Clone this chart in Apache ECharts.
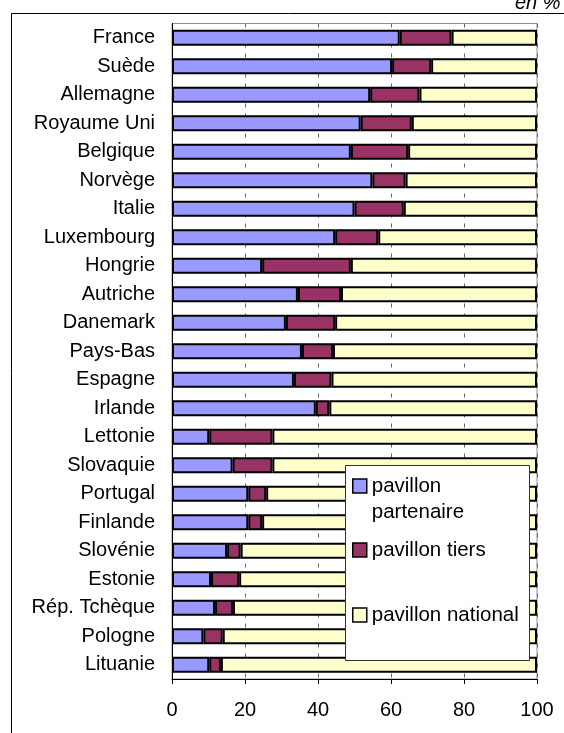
<!DOCTYPE html>
<html>
<head>
<meta charset="utf-8">
<script src="https://cdn.jsdelivr.net/npm/echarts@6/dist/echarts.min.js"></script>
<style>
  html, body { margin: 0; padding: 0; background: #fff; }
  #main { width: 564px; height: 733px; }
</style>
</head>
<body>
<div id="main"></div>
<script>
// pays, du haut vers le bas
var countries = ['France', 'Suède', 'Allemagne', 'Royaume Uni', 'Belgique', 'Norvège', 'Italie',
  'Luxembourg', 'Hongrie', 'Autriche', 'Danemark', 'Pays-Bas', 'Espagne', 'Irlande', 'Lettonie',
  'Slovaquie', 'Portugal', 'Finlande', 'Slovénie', 'Estonie', 'Rép. Tchèque', 'Pologne', 'Lituanie'];

// parts en %
var partenaire = [62.4, 60.3, 54.3, 51.7, 49.0, 54.9, 50.0, 44.7, 24.7, 34.5, 31.2, 35.6, 33.4, 39.4,
  10.2, 16.6, 20.9, 20.9, 15.1, 10.7, 11.8, 8.6, 10.2];
var tiers = [14.2, 10.7, 13.5, 14.0, 15.7, 9.1, 13.5, 11.8, 24.3, 11.8, 13.5, 8.5, 10.3, 3.7,
  17.3, 10.9, 4.9, 3.8, 3.7, 7.7, 4.9, 5.3, 3.2];
var national = [23.4, 29.0, 32.2, 34.3, 35.3, 36.0, 36.5, 43.5, 51.0, 53.7, 55.3, 55.9, 56.3, 56.9,
  72.5, 72.5, 74.2, 75.3, 81.2, 81.6, 83.3, 86.1, 86.6];

var xTicks = [0, 20, 40, 60, 80, 100];

var FONT = 'Liberation Sans';

var chart = echarts.init(document.getElementById('main'), null, { renderer: 'canvas' });

function barSerie(name, data, color) {
  return {
    name: name,
    type: 'bar',
    stack: 'total',
    barWidth: 16,
    data: data,
    itemStyle: { color: color, borderColor: '#000', borderWidth: 2 },
    emphasis: { disabled: true }
  };
}

var option = {
  animation: false,
  backgroundColor: '#fff',
  textStyle: { fontFamily: FONT },
  grid: {
    left: 172, right: 27, top: 23.5, bottom: 54,
    show: true, borderColor: '#909090', borderWidth: 1
  },
  xAxis: {
    type: 'value',
    min: xTicks[0],
    max: xTicks[xTicks.length - 1],
    interval: 20,
    axisLine: { show: true, lineStyle: { color: '#000', width: 1 } },
    axisTick: { show: true, length: 5, lineStyle: { color: '#000' } },
    axisLabel: { color: '#000', fontSize: 20, fontFamily: FONT, margin: 21 },
    splitLine: { show: true, lineStyle: { color: '#666', type: [4, 6], width: 1 } }
  },
  yAxis: {
    type: 'category',
    inverse: true,
    data: countries,
    axisLine: { show: true, lineStyle: { color: '#000', width: 1 } },
    axisTick: { show: false },
    axisLabel: { color: '#000', fontSize: 20, fontFamily: FONT, margin: 17 }
  },
  legend: {
    orient: 'vertical',
    left: 352,
    top: 447,
    padding: 0,
    itemGap: 12,
    itemWidth: 14,
    itemHeight: 14,
    icon: 'rect',
    z: 10,
    selectedMode: false,
    itemStyle: { borderColor: '#000', borderWidth: 1.5 },
    textStyle: { color: '#000', fontSize: 20.5, fontFamily: FONT, lineHeight: 26 },
    // ligne vide en tête : le carré reste aligné sur « pavillon »
    formatter: function (name) {
      return name === 'pavillon partenaire' ? '\npavillon\npartenaire' : name;
    },
    data: [
      { name: 'pavillon partenaire' },
      { name: 'pavillon tiers' },
      { name: 'pavillon national', textStyle: { padding: [27, 0, 27, 0] } }
    ]
  },
  graphic: [
    // cadre extérieur
    {
      type: 'rect', z: 1, silent: true,
      shape: { x: 11.5, y: 13.5, width: 700, height: 800 },
      style: { fill: 'none', stroke: '#000', lineWidth: 1 }
    },
    // boîte de légende
    {
      type: 'rect', z: 9, silent: true,
      shape: { x: 345.5, y: 465.5, width: 184, height: 195 },
      style: { fill: '#fff', stroke: '#333', lineWidth: 1 }
    },
    {
      type: 'text', z: 9, silent: true,
      style: { text: 'en %', x: 515, y: 13, verticalAlign: 'bottom', fontSize: 20, fontStyle: 'italic', fontFamily: FONT, fill: '#000' }
    }
  ],
  series: [
    barSerie('pavillon partenaire', partenaire, '#9999FF'),
    barSerie('pavillon tiers', tiers, '#993366'),
    barSerie('pavillon national', national, '#FFFFCC')
  ]
};

chart.setOption(option);
</script>
</body>
</html>
